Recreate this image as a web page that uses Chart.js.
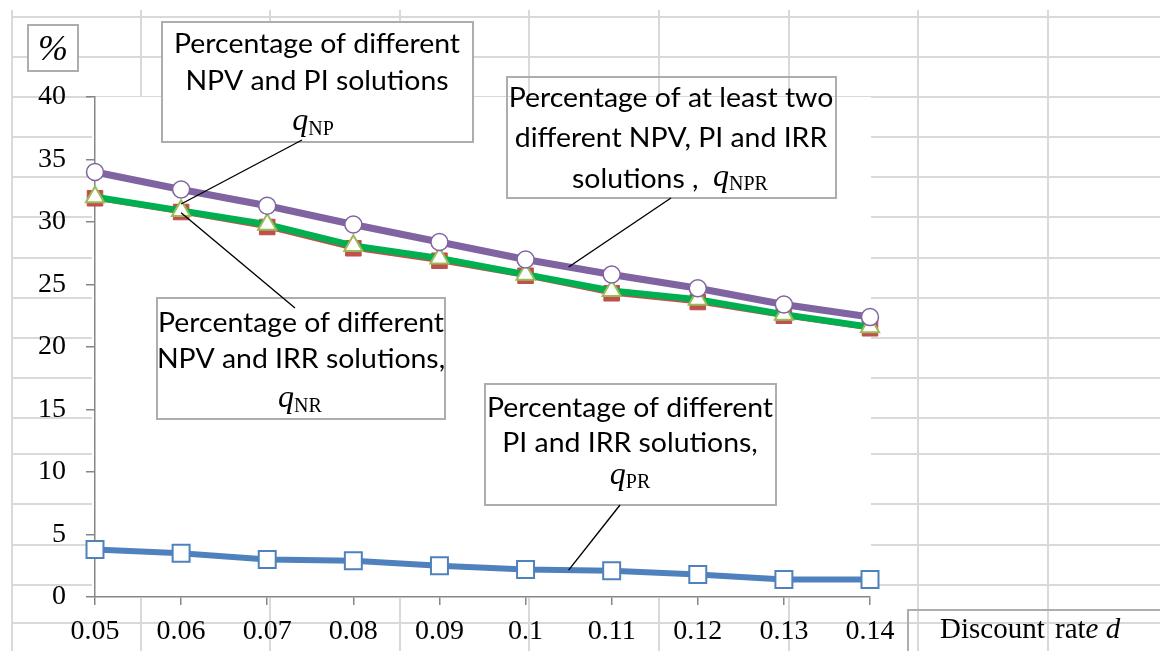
<!DOCTYPE html>
<html><head><meta charset="utf-8">
<script src="https://cdn.jsdelivr.net/npm/chart.js@4.4.1/dist/chart.umd.min.js"></script>
<style>html,body{margin:0;padding:0;background:#fff;overflow:hidden}canvas{display:block}</style>
</head><body>
<canvas id="c" width="1160" height="651"></canvas>
<script>
// ---- data ----
const discountRates = ['0.05','0.06','0.07','0.08','0.09','0.1','0.11','0.12','0.13','0.14'];
const qNPR = [34.0, 32.6, 31.3, 29.8, 28.4, 27.0, 25.8, 24.7, 23.4, 22.4];
const qNR  = [32.0, 30.9, 29.8, 28.1, 27.1, 25.8, 24.5, 23.8, 22.6, 21.6];
const qNP  = [31.9, 30.8, 29.6, 27.9, 26.9, 25.7, 24.3, 23.6, 22.5, 21.5];
const qPR  = [3.8, 3.5, 3.0, 2.9, 2.5, 2.2, 2.1, 1.8, 1.4, 1.4];
const yMin = 0, yMax = 40, yStep = 5;

// ---- decoration (spreadsheet cell grid behind the pasted chart) ----
const sheetCols = [12,141,270,400,529,659,789,918,1048];
const sheetRows = [17,57,97,137,177,217,258,298,338,378,418,454,504,545,585,623];

const SANS = "Lato, 'Open Sans', sans-serif";
const SERIF = "'Liberation Serif', serif";

Chart.defaults.font.family = SERIF;
Chart.defaults.font.size = 28;
Chart.defaults.color = '#000';

function drawSegs(ctx, cx, segs, sx){
  let total = 0;
  const ws = segs.map(s => { ctx.font = s.font; const w = ctx.measureText(s.t).width * (s.sans ? sx : 1); total += w; return w; });
  let x = cx - total/2;
  segs.forEach((s,i) => {
    ctx.font = s.font;
    ctx.save();
    ctx.translate(x, s.y);
    if (s.sans) ctx.scale(sx,1);
    ctx.fillText(s.t, 0, 0);
    ctx.restore();
    x += ws[i];
  });
}

const bgPlugin = {
  id: 'sheetBg',
  beforeDraw(chart){
    const ctx = chart.ctx, a = chart.chartArea;
    ctx.save();
    ctx.fillStyle = '#fff';
    ctx.fillRect(0,0,chart.width,chart.height);
    ctx.strokeStyle = '#D9D9D9';
    ctx.lineWidth = 2;
    sheetCols.forEach(x => { ctx.beginPath(); ctx.moveTo(x,10); ctx.lineTo(x,chart.height); ctx.stroke(); });
    sheetRows.forEach(y => { ctx.beginPath(); ctx.moveTo(12,y); ctx.lineTo(chart.width,y); ctx.stroke(); });
    ctx.fillStyle = '#fff';
    ctx.fillRect(a.left-3, a.top, a.right - a.left + 4, a.bottom - a.top + 1);
    ctx.restore();
  }
};

const annPlugin = {
  id: 'annotations',
  afterDraw(chart){
    const ctx = chart.ctx;
    const xs = chart.scales.x, ys = chart.scales.y;
    ctx.save();
    ctx.textBaseline = 'alphabetic';
    ctx.textAlign = 'left';
    ctx.fillStyle = '#000';
    ctx.font = '26px ' + SANS;
    const sx = 286 / ctx.measureText('Percentage of different').width;
    const F = '26px ' + SANS, Q = 'italic 32px ' + SERIF, S = '20px ' + SERIF;

    function box(x1,y1,x2,y2,fill){
      if (fill){ ctx.fillStyle='#fff'; ctx.fillRect(x1,y1,x2-x1,y2-y1); }
      ctx.strokeStyle='#ADADAD'; ctx.lineWidth=2; ctx.strokeRect(x1,y1,x2-x1,y2-y1);
      ctx.fillStyle='#000';
    }
    function leader(x1,y1,x2,y2){
      ctx.strokeStyle='#000'; ctx.lineWidth=1.4;
      ctx.beginPath(); ctx.moveTo(x1,y1); ctx.lineTo(x2,y2); ctx.stroke();
    }

    // "%" box
    box(28,25,78,71,true);
    ctx.font = 'italic 36px ' + SERIF; ctx.textAlign='center';
    ctx.fillText('%', 53, 60);
    ctx.textAlign='left';

    // Box 1: qNP
    box(162,22,473,142,true);
    drawSegs(ctx,317,[{t:'Percentage of different',font:F,sans:true,y:53}],sx);
    drawSegs(ctx,317,[{t:'NPV and PI solutions',font:F,sans:true,y:90}],sx);
    drawSegs(ctx,313,[{t:'q',font:Q,y:130},{t:'NP',font:S,y:135}],sx);

    // Box 2: qNPR (transparent)
    box(507,77,836,198,false);
    drawSegs(ctx,671,[{t:'Percentage of at least two',font:F,sans:true,y:107}],sx);
    drawSegs(ctx,671,[{t:'different NPV, PI and IRR',font:F,sans:true,y:147}],sx);
    drawSegs(ctx,670,[{t:'solutions ,  ',font:F,sans:true,y:188},{t:'q',font:Q,y:186},{t:'NPR',font:S,y:190}],sx);

    // Box 3: qNR
    box(157,298,445,419,true);
    drawSegs(ctx,301,[{t:'Percentage of different',font:F,sans:true,y:332}],sx);
    drawSegs(ctx,301,[{t:'NPV and IRR solutions,',font:F,sans:true,y:368}],sx);
    drawSegs(ctx,300,[{t:'q',font:Q,y:407},{t:'NR',font:S,y:412}],sx);

    // Box 4: qPR
    box(485,384,776,505,true);
    drawSegs(ctx,630,[{t:'Percentage of different',font:F,sans:true,y:417}],sx);
    drawSegs(ctx,630,[{t:'PI and IRR solutions,',font:F,sans:true,y:452}],sx);
    drawSegs(ctx,630,[{t:'q',font:Q,y:484},{t:'PR',font:S,y:488}],sx);

    // leader lines, anchored to the data through the scales
    const px = i => xs.getPixelForValue(i);
    const midPx = (arr,i) => (ys.getPixelForValue(arr[i]) + ys.getPixelForValue(arr[i+1]))/2;
    leader(302,140, px(1), ys.getPixelForValue(qNP[1]) - 8);
    leader(px(1), ys.getPixelForValue(qNR[1]) + 2, 295,308);
    leader(671,198, (px(5)+px(6))/2, midPx(qNPR,5));
    leader(620,505, (px(5)+px(6))/2, midPx(qPR,5));

    // x-axis title box
    ctx.strokeStyle='#ADADAD'; ctx.lineWidth=2;
    ctx.beginPath(); ctx.moveTo(908,chart.height+2); ctx.lineTo(908,610); ctx.lineTo(chart.width+2,610); ctx.stroke();
    ctx.fillStyle='#000';
    ctx.font = '29px ' + SERIF;
    ctx.fillText('Discount', 940, 638);
    ctx.fillText('rat', 1055, 638);
    const wr = ctx.measureText('rat').width;
    ctx.font = 'italic 29px ' + SERIF;
    ctx.fillText('e d', 1055 + wr, 638);
    ctx.restore();
  }
};

const axisGray = '#868686';
const tickFont = { family: SERIF, size: 28 };
new Chart(document.getElementById('c'), {
  type: 'line',
  data: {
    labels: discountRates,
    datasets: [
      { label: 'qNPR', data: qNPR, borderColor: '#8064A2', borderWidth: 7,
        pointStyle: 'circle', pointRadius: 8.5, pointBackgroundColor: '#fff', pointBorderColor: '#8064A2', pointBorderWidth: 1.5 },
      { label: 'qNR', data: qNR, borderColor: '#00B050', borderWidth: 6.5,
        pointStyle: 'triangle', pointRadius: 10.5, pointBackgroundColor: '#fff', pointBorderColor: '#9BBB59', pointBorderWidth: 2 },
      { label: 'qNP', data: qNP, borderColor: '#C0504D', borderWidth: 4.5,
        pointStyle: 'rect', pointRadius: 11, pointBackgroundColor: '#C0504D', pointBorderColor: '#C0504D', pointBorderWidth: 1 },
      { label: 'qPR', data: qPR, borderColor: '#4F81BD', borderWidth: 6,
        pointStyle: 'rect', pointRadius: 12, pointBackgroundColor: '#fff', pointBorderColor: '#4F81BD', pointBorderWidth: 2 }
    ]
  },
  options: {
    responsive: false, animation: false, devicePixelRatio: 1,
    font: tickFont,
    layout: { padding: { left: 0, top: 97, right: 290, bottom: 0 } },
    plugins: { legend: { display: false }, tooltip: { enabled: false } },
    elements: { line: { tension: 0 } },
    scales: {
      x: {
        type: 'category', offset: false,
        grid: { display: true, drawOnChartArea: false, drawTicks: true, tickLength: 8, color: axisGray, lineWidth: 1.5, offset: false },
        border: { display: true, color: axisGray, width: 1.5 },
        ticks: { color: '#000', font: tickFont, padding: 10, maxRotation: 0, autoSkip: false },
        afterFit: s => { s.height = 54; }
      },
      y: {
        min: yMin, max: yMax,
        grid: { display: true, drawOnChartArea: false, drawTicks: true, tickLength: 9, color: axisGray, lineWidth: 1.5 },
        border: { display: true, color: axisGray, width: 1.5 },
        ticks: { stepSize: yStep, color: '#000', font: tickFont, padding: 20 },
        afterFit: s => { s.width = 95; }
      }
    }
  },
  plugins: [bgPlugin, annPlugin]
});
</script>
</body></html>
